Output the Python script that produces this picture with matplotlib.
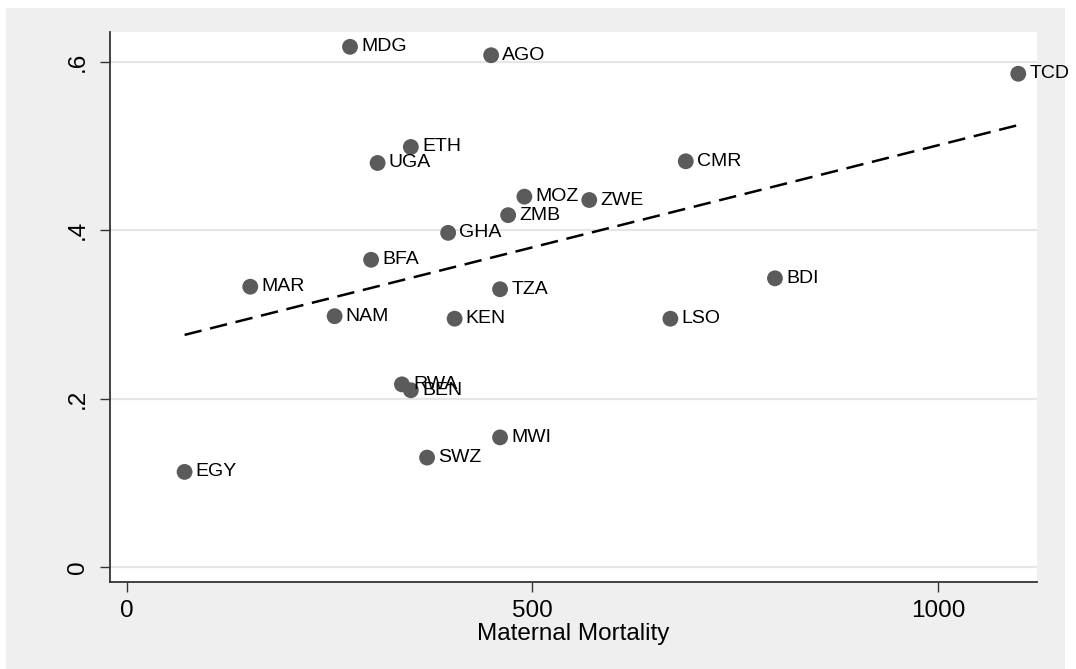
import numpy as np
import matplotlib
matplotlib.use("Agg")
import matplotlib.pyplot as plt
from matplotlib.patches import Rectangle

plt.rcParams['font.family'] = ['Liberation Sans', 'DejaVu Sans']

countries = ["MDG", "AGO", "TCD", "ETH", "UGA", "CMR", "MOZ", "ZWE", "ZMB", "GHA",
             "BFA", "MAR", "TZA", "BDI", "NAM", "KEN", "LSO", "RWA", "BEN", "MWI",
             "SWZ", "EGY"]
maternal_mortality = [275, 449, 1099, 350, 309, 689, 490, 570, 470, 396,
                      301, 152, 460, 799, 256, 404, 670, 339, 350, 460,
                      370, 71]
share = [0.618, 0.608, 0.586, 0.499, 0.480, 0.482, 0.440, 0.436, 0.418, 0.397,
         0.365, 0.333, 0.330, 0.343, 0.298, 0.295, 0.295, 0.217, 0.210, 0.154,
         0.130, 0.113]

x_ticks = [0, 500, 1000]
x_tick_labels = ["0", "500", "1000"]
y_ticks = [0, 0.2, 0.4, 0.6]
y_tick_labels = ["0", ".2", ".4", ".6"]

W, H = 1076, 669
fig = plt.figure(figsize=(W / 100, H / 100), dpi=100, facecolor="white")

# light grey graph region behind the plot area
fig.patches.append(Rectangle((6 / W, 0), (1065 - 6) / W, (H - 8) / H,
                             transform=fig.transFigure, facecolor="#efefef",
                             edgecolor="none", zorder=-10))

ax = fig.add_axes([110 / W, (H - 582) / H, (1037 - 110) / W, (582 - 32) / H])
ax.set_facecolor("white")

ax.set_xlim(-20.96, 1122.1)
ax.set_ylim(-0.0178, 0.6356)

for yv in y_ticks:
    ax.axhline(yv, color="#e6e6e6", lw=1.6, zorder=1)

x = np.array(maternal_mortality, dtype=float)
y = np.array(share, dtype=float)

# linear fit over the observed range
slope, intercept = np.polyfit(x, y, 1)
xf = np.array([x.min(), x.max()])
ax.plot(xf, intercept + slope * xf, color="black", lw=1.8,
        dashes=(7, 3.5), zorder=2)

ax.scatter(x, y, s=130, color="#5b5b5b", edgecolor="none", zorder=3)
for name, xv, yv in zip(countries, x, y):
    ax.annotate(name, (xv, yv), xytext=(8, 0), textcoords="offset points",
                ha="left", va="center", fontsize=14, color="black", zorder=4)

for side in ("top", "right"):
    ax.spines[side].set_visible(False)
for side in ("left", "bottom"):
    ax.spines[side].set_color("#333333")
    ax.spines[side].set_linewidth(1.3)

ax.set_xticks(x_ticks)
ax.set_xticklabels(x_tick_labels)
ax.set_yticks(y_ticks)
ax.set_yticklabels(y_tick_labels, rotation=90, va="center")
ax.tick_params(axis="both", length=7, width=1, color="#333333",
               labelsize=17.5, pad=6)
ax.tick_params(axis="y", pad=8)

ax.set_xlabel("Maternal Mortality", fontsize=17.5, labelpad=1)

fig.savefig("out.png", dpi=100, facecolor="white")
